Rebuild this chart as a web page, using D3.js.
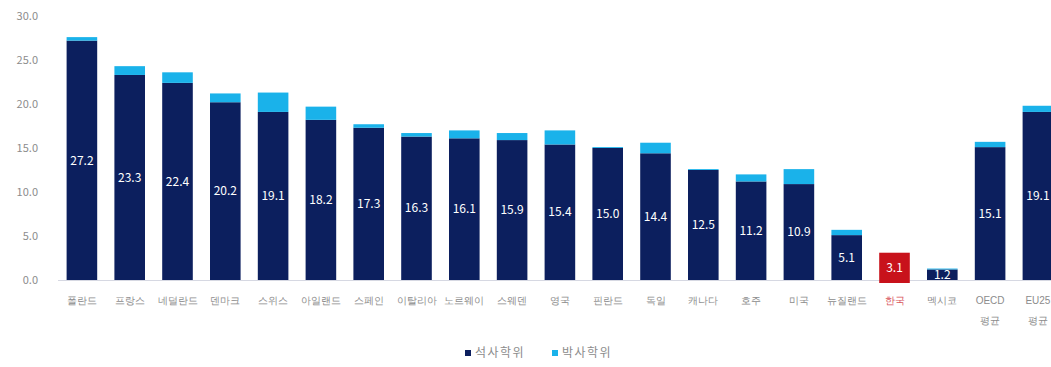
<!DOCTYPE html>
<html lang="ko">
<head>
<meta charset="utf-8">
<script src="https://cdn.jsdelivr.net/npm/d3@7"></script>
<style>
  html, body { margin: 0; padding: 0; background: #fff; }
  svg { display: block; font-family: "Noto Sans CJK KR", "Noto Sans", sans-serif; }
</style>
</head>
<body>
<svg id="chart" width="1051" height="367"></svg>
<script>
// Share of 25-34 year-olds holding a master's or doctoral degree (%)
const countries = ["폴란드", "프랑스", "네덜란드", "덴마크", "스위스", "아일랜드", "스페인", "이탈리아",
  "노르웨이", "스웨덴", "영국", "핀란드", "독일", "캐나다", "호주", "미국", "뉴질랜드", "한국",
  "멕시코", "OECD\n평균", "EU25\n평균"];
const masters = [27.2, 23.3, 22.4, 20.2, 19.1, 18.2, 17.3, 16.3, 16.1, 15.9, 15.4, 15.0, 14.4,
  12.5, 11.2, 10.9, 5.1, 3.1, 1.2, 15.1, 19.1];
const doctorate = [0.4, 1.0, 1.2, 1.0, 2.2, 1.5, 0.4, 0.4, 0.9, 0.8, 1.6, 0.1, 1.2,
  0.1, 0.8, 1.7, 0.6, 0.0, 0.1, 0.6, 0.7];
const yTicks = [0, 5, 10, 15, 20, 25, 30];
const seriesNames = ["석사학위", "박사학위"];
const highlight = "한국";

const colors = { masters: "#0c1f5e", doctorate: "#1ab2ea", highlight: "#c8121b", text: "#8c8c8c" };

const svg = d3.select("#chart");
const rows = countries.map((c, i) => ({ c, m: masters[i], d: doctorate[i] }));

const x = d3.scaleBand()
  .domain(countries)
  .range([58, 58 + 21 * 47.8])
  .paddingInner(0.36)
  .paddingOuter(0.18);

const y = d3.scaleLinear().domain([0, 30]).range([280, 16]);

// y axis labels
const yAxis = svg.append("g")
  .attr("transform", "translate(38,0)")
  .call(d3.axisLeft(y).tickValues(yTicks).tickFormat(d3.format(".1f")).tickSize(0).tickPadding(0));
yAxis.select(".domain").remove();
yAxis.selectAll("text")
  .attr("fill", colors.text)
  .attr("font-size", 11)
  .attr("font-family", "'Noto Sans CJK KR', sans-serif");

// baseline
svg.append("line")
  .attr("x1", 58).attr("x2", 1051)
  .attr("y1", y(0) + 0.5).attr("y2", y(0) + 0.5)
  .attr("stroke", "#d6d8e2").attr("stroke-width", 1);

// stacked bars
const bars = svg.append("g");
bars.selectAll("rect.m").data(rows).join("rect")
  .attr("class", "m")
  .attr("x", d => x(d.c))
  .attr("width", x.bandwidth())
  .attr("y", d => y(d.m))
  .attr("height", d => y(0) - y(d.m) + (d.c === highlight ? 3 : 0))
  .attr("fill", d => d.c === highlight ? colors.highlight : colors.masters);

bars.selectAll("rect.d").data(rows.filter(d => d.d > 0)).join("rect")
  .attr("class", "d")
  .attr("x", d => x(d.c))
  .attr("width", x.bandwidth())
  .attr("y", d => y(d.m + d.d))
  .attr("height", d => y(d.m) - y(d.m + d.d))
  .attr("fill", colors.doctorate);

// value labels inside the master's segment
svg.append("g").selectAll("text").data(rows).join("text")
  .attr("x", d => x(d.c) + x.bandwidth() / 2)
  .attr("y", d => (y(0) + y(d.m)) / 2 + (d.c === highlight ? 1.5 : 0))
  .attr("dy", "0.35em")
  .attr("text-anchor", "middle")
  .attr("fill", "#fff")
  .attr("font-size", 12)
  .text(d => d.m.toFixed(1));

// category labels
const xAxis = svg.append("g")
  .attr("transform", `translate(0,${y(0)})`)
  .call(d3.axisBottom(x).tickSize(0).tickPadding(0).tickFormat(""));
xAxis.select(".domain").remove();
xAxis.selectAll(".tick").each(function(c) {
  const lines = c.split("\n");
  const t = d3.select(this).append("text")
    .attr("fill", c === highlight ? "#d9555c" : colors.text)
    .attr("font-size", 10)
    .attr("text-anchor", "middle");
  lines.forEach((ln, i) => {
    t.append("tspan").attr("x", 0).attr("y", 24 + i * 20).text(ln);
  });
});

// legend
const legend = svg.append("g").attr("font-size", 12).attr("fill", colors.text);
const legendItems = [
  { name: seriesNames[0], color: colors.masters, x: 465 },
  { name: seriesNames[1], color: colors.doctorate, x: 552 }
];
legendItems.forEach(it => {
  legend.append("rect").attr("x", it.x).attr("y", 350).attr("width", 6).attr("height", 6).attr("fill", it.color);
  legend.append("text").attr("x", it.x + 10).attr("y", 353).attr("dy", "0.35em")
    .attr("letter-spacing", 1.5).text(it.name);
});
</script>
</body>
</html>
